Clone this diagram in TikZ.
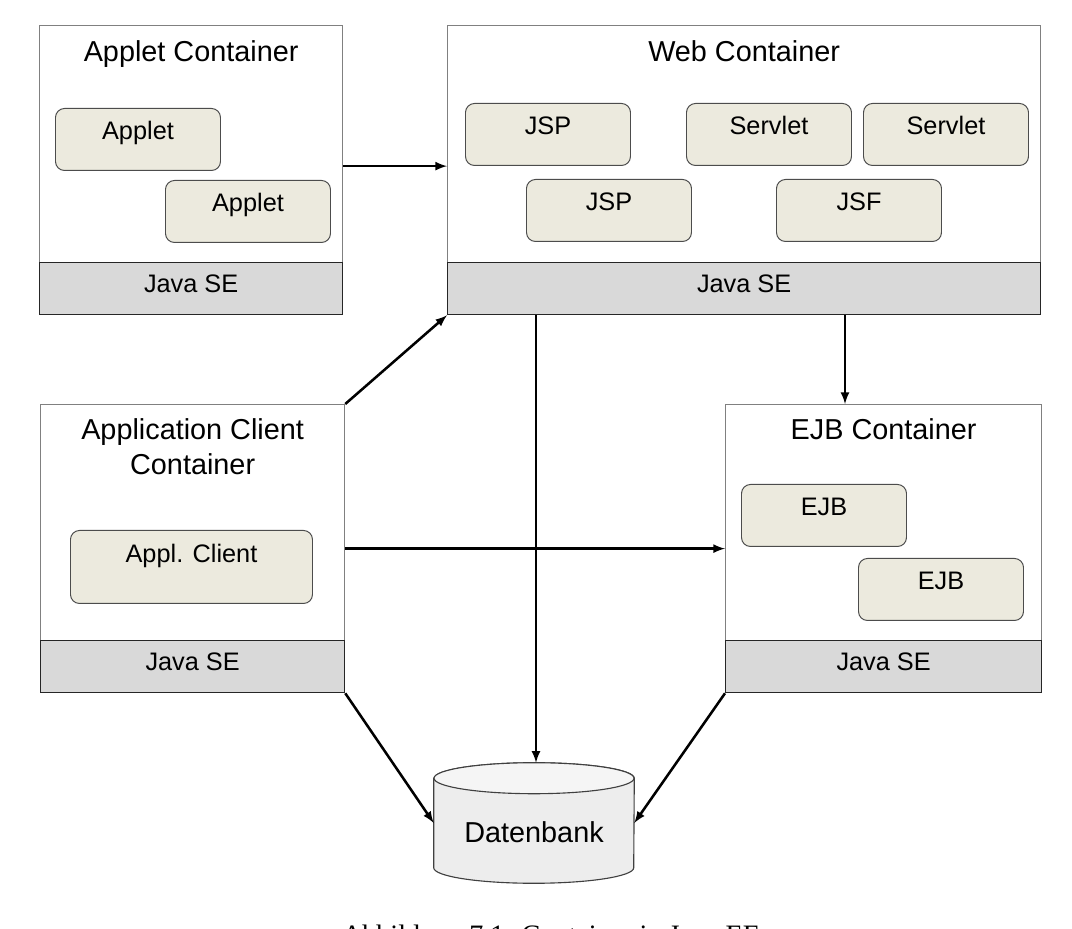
\documentclass[tikz,border=0pt]{standalone}
\usepackage{fontspec}
\setmainfont{Liberation Sans}
\newfontfamily\capfont{Liberation Serif}
\usepackage{tikz}
\usetikzlibrary{arrows,backgrounds}
\definecolor{compfill}{RGB}{236,234,222}
\definecolor{sefill}{RGB}{217,217,217}
\definecolor{dbfill}{RGB}{237,237,237}
\newlength\pu
\setlength\pu{0.025cm}

\begin{document}
\begin{tikzpicture}[x=0.025cm,y=0.025cm,
	container/.style={rectangle,draw=black!50,fill=white,line width=0.9pt,inner sep=0pt,anchor=north west},
	javase/.style={rectangle,draw=black!85,fill=sefill,line width=0.9pt,inner sep=0pt,anchor=south west,text height=30\pu,text depth=22\pu,font=\fontsize{18}{21}\selectfont},
	ctitle/.style={anchor=base,font=\fontsize{20.5}{25}\selectfont},
	comp/.style={rectangle,rounded corners=9\pu,draw=black!70,fill=compfill,line width=0.7pt,inner sep=0pt,anchor=north west,minimum width=165\pu,text height=31\pu,text depth=31\pu,font=\fontsize{18}{21}\selectfont},
	conn/.style={line width=1.8pt,-latex}]
		\useasboundingbox (0,0) rectangle (1072,928);
%		\draw[help lines,step=50] (0,0) grid (1072,928);

		% containers
		\path (39,903) node(applet) [container,minimum width=303\pu,minimum height=289\pu] {};
		\path (447,903) node(web) [container,minimum width=593\pu,minimum height=289\pu] {};
		\path (40,524) node(appclient) [container,minimum width=304\pu,minimum height=288\pu] {};
		\path (725,524) node(ejb) [container,minimum width=316\pu,minimum height=288\pu] {};

		\path (applet.south west) node(applet_se) [javase,minimum width=303\pu] {Java SE};
		\path (web.south west) node(web_se) [javase,minimum width=593\pu] {Java SE};
		\path (appclient.south west) node(appclient_se) [javase,minimum width=304\pu] {Java SE};
		\path (ejb.south west) node(ejb_se) [javase,minimum width=316\pu] {Java SE};

		\path (applet.north) +(0,-37) node(applet_title) [ctitle] {Applet Container};
		\path (web.north) +(0,-37) node(web_title) [ctitle] {Web Container};
		\path (appclient.north) +(0,-36) node(appclient_title) [ctitle] {Application Client};
		\path (appclient.north) +(0,-71) node(appclient_title2) [ctitle] {Container};
		\path (ejb.north) +(0,-36) node(ejb_title) [ctitle] {EJB Container};

		% components
		\path (55,820) node(applet1) [comp] {Applet};
		\path (165,748) node(applet2) [comp] {Applet};
		\path (465,825) node(jsp1) [comp] {JSP};
		\path (686,825) node(servlet1) [comp] {Servlet};
		\path (863,825) node(servlet2) [comp] {Servlet};
		\path (526,749) node(jsp2) [comp] {JSP};
		\path (776,749) node(jsf) [comp] {JSF};
		\path (70,398) node(applclient) [comp,minimum width=242\pu,text height=32\pu,text depth=41\pu] {Appl. Client};
		\path (741,444) node(ejb1) [comp] {EJB};
		\path (858,370) node(ejb2) [comp] {EJB};

		% database
		\path (534,86) node(db) [anchor=base,inner sep=0pt,minimum width=200\pu,text height=79\pu,text depth=41\pu,font=\fontsize{20.5}{25}\selectfont] {Datenbank};
		\begin{pgfonlayer}{background}
			\draw[draw=black!75,fill=dbfill,line width=0.8pt] ([yshift=-15.5\pu]db.north west) -- ([yshift=15.5\pu]db.south west)
				arc[start angle=180,end angle=360,x radius=100\pu,y radius=15.5\pu] -- ([yshift=-15.5\pu]db.north east)
				arc[start angle=0,end angle=180,x radius=100\pu,y radius=15.5\pu] -- cycle;
			\draw[draw=black!75,fill=black!4,line width=0.8pt] ([yshift=-15.5\pu]db.north) ellipse[x radius=100\pu,y radius=15.5\pu];
		\end{pgfonlayer}

		% connections
		\path (applet.east) +(0,4) coordinate (applet_out);
		\path (web.south west) +(89,0) coordinate (web_db);
		\path (web.south west) +(398,0) coordinate (web_ejb);
		\draw[conn] (applet_out) -- (applet_out -| web.west);
		\draw[conn] (appclient.north east) -- (web.south west);
		\draw[conn] (web_db) -- (web_db |- db.north);
		\draw[conn] (web_ejb) -- (web_ejb |- ejb.north);
		\draw[conn] (appclient.east) -- (ejb.west);
		\draw[conn] (appclient.south east) -- (db.west);
		\draw[conn] (ejb.south west) -- (db.east);

		\path (551,-16) node(caption) [anchor=base,font=\capfont\fontsize{20}{24}\selectfont] {Abbildung 7.1: Container in Java EE};
	\end{tikzpicture}
\end{document}
